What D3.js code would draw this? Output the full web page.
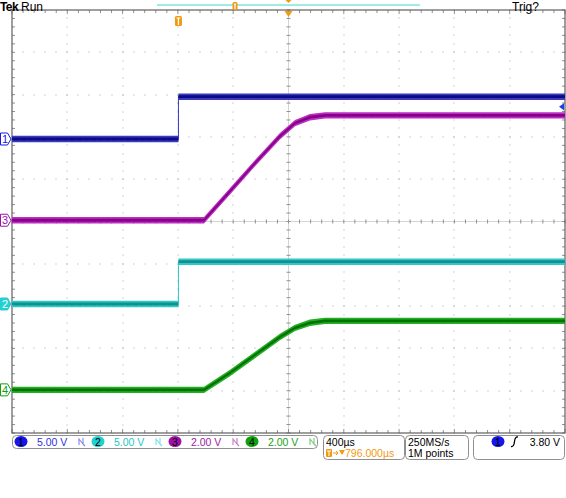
<!DOCTYPE html>
<html>
<head>
<meta charset="utf-8">
<script src="https://cdn.jsdelivr.net/npm/d3@7"></script>
<style>
body { margin: 0; background: #fff; }
svg { display: block; font-family: "Liberation Sans", Arial, sans-serif; }
</style>
</head>
<body>
<svg id="scope" width="566" height="498"></svg>
<script>
// time in µs relative to the trigger point
var timeEdge = [-1204, 0, 0, 2796];
var ch1Volts = [0, 0, 5.0, 5.0];
var ch2Volts = [0, 0, 5.0, 5.0];

var timeRamp = [-1204, 185, 373, 554, 734, 843, 951, 1060, 2796];
var ch3Volts = [0, 0, 1.37, 2.70, 3.97, 4.59, 4.87, 4.96, 4.96];
var ch4Volts = [0, 0, 0.80, 1.65, 2.50, 2.93, 3.17, 3.26, 3.26];

var scaleLabels = ["5.00 V", "5.00 V", "2.00 V", "2.00 V"];
var timeLabel = "400µs";
var delayLabel = "796.000µs";
var rateLabels = ["250MS/s", "1M points"];
var trigLevel = 3.80;
var trigLabel = "3.80 V";

(function() {
var channels = [
    {id: "1", t: timeEdge, v: ch1Volts, vdiv: 5, pos: 1.95, band: "#3b3bbb", core: "#0a0a8a", tag: "#1616e8", txt: "#3030e0", tagFill: false},
    {id: "3", t: timeRamp, v: ch3Volts, vdiv: 2, pos: 0.03, band: "#b830c0", core: "#8a008a", tag: "#a010a8", txt: "#a020a0", tagFill: false},
    {id: "2", t: timeEdge, v: ch2Volts, vdiv: 5, pos: -1.95, band: "#30c8c8", core: "#129090", tag: "#22d0d0", txt: "#22c8c8", tagFill: true},
    {id: "4", t: timeRamp, v: ch4Volts, vdiv: 2, pos: -3.98, band: "#20b020", core: "#087008", tag: "#10a010", txt: "#20a020", tagFill: false}
];

var pL = 12, pR = 565, pT = 10, pB = 433;

var x = d3.scaleLinear().domain([-1204, 2796]).range([pL, pR]);
var xDiv = d3.scaleLinear().domain([0, 10]).range([pL, pR]);
var yDiv = d3.scaleLinear().domain([-5, 5]).range([pB, pT]);

var svg = d3.select("#scope");

// ---- graticule
var grid = svg.append("g");
var minorX = d3.range(0, 51).map(function(d) { return d / 5; });
var minorY = d3.range(-25, 26).map(function(d) { return d / 5; });

// dotted division lines
d3.range(1, 10).filter(function(i) { return i != 5; }).forEach(function(i) {
    grid.selectAll(null).data(minorY).enter().append("rect")
        .attr("x", Math.round(xDiv(i)) - 0.5).attr("y", function(d) { return Math.round(yDiv(d)) - 0.5; })
        .attr("width", 1).attr("height", 1).attr("fill", "#a8a8a8");
});
d3.range(-4, 5).filter(function(j) { return j != 0; }).forEach(function(j) {
    grid.selectAll(null).data(minorX).enter().append("rect")
        .attr("x", function(d) { return Math.round(xDiv(d)) - 0.5; }).attr("y", Math.round(yDiv(j)) - 0.5)
        .attr("width", 1).attr("height", 1).attr("fill", "#a8a8a8");
});

// center cross with ticks
grid.append("line").attr("x1", xDiv(5)).attr("x2", xDiv(5)).attr("y1", pT).attr("y2", pB)
    .attr("stroke", "#d4d4d4");
grid.append("line").attr("x1", pL).attr("x2", pR).attr("y1", yDiv(0)).attr("y2", yDiv(0))
    .attr("stroke", "#d4d4d4");
grid.selectAll(null).data(minorY).enter().append("line")
    .attr("x1", xDiv(5) - 2).attr("x2", xDiv(5) + 2)
    .attr("y1", function(d) { return yDiv(d); }).attr("y2", function(d) { return yDiv(d); })
    .attr("stroke", "#909090");
grid.selectAll(null).data(minorX).enter().append("line")
    .attr("y1", yDiv(0) - 2).attr("y2", yDiv(0) + 2)
    .attr("x1", function(d) { return xDiv(d); }).attr("x2", function(d) { return xDiv(d); })
    .attr("stroke", "#909090");

// border ticks
grid.selectAll(null).data(minorX).enter().append("line")
    .attr("x1", function(d) { return xDiv(d); }).attr("x2", function(d) { return xDiv(d); })
    .attr("y1", pT).attr("y2", function(d) { return pT + (d % 1 == 0 ? 4 : 3); })
    .attr("stroke", "#909090");
grid.selectAll(null).data(minorX).enter().append("line")
    .attr("x1", function(d) { return xDiv(d); }).attr("x2", function(d) { return xDiv(d); })
    .attr("y1", pB).attr("y2", function(d) { return pB - (d % 1 == 0 ? 4 : 3); })
    .attr("stroke", "#909090");
grid.selectAll(null).data(minorY).enter().append("line")
    .attr("y1", function(d) { return yDiv(d); }).attr("y2", function(d) { return yDiv(d); })
    .attr("x1", pL).attr("x2", pL + 3)
    .attr("stroke", "#909090");
grid.selectAll(null).data(minorY).enter().append("line")
    .attr("y1", function(d) { return yDiv(d); }).attr("y2", function(d) { return yDiv(d); })
    .attr("x1", pR).attr("x2", pR - 3)
    .attr("stroke", "#909090");

grid.append("rect").attr("x", pL).attr("y", pT)
    .attr("width", pR - pL).attr("height", pB - pT)
    .attr("fill", "none").attr("stroke", "#606060").attr("stroke-width", 1.2);

// ---- traces
var traces = svg.append("g");
channels.forEach(function(ch) {
    var pts = ch.t.map(function(t, i) { return [x(t), yDiv(ch.pos + ch.v[i] / ch.vdiv)]; });
    var band = d3.area().x(function(d) { return d[0]; })
        .y0(function(d) { return d[1] + 3.2; }).y1(function(d) { return d[1] - 3.2; });
    var core = d3.area().x(function(d) { return d[0]; })
        .y0(function(d) { return d[1] + 1.4; }).y1(function(d) { return d[1] - 1.4; });
    var line = d3.line().x(function(d) { return d[0]; }).y(function(d) { return d[1]; });
    traces.append("path").attr("d", line(pts)).attr("fill", "none")
        .attr("stroke", ch.band).attr("stroke-width", 1);
    traces.append("path").attr("d", band(pts)).attr("fill", ch.band);
    traces.append("path").attr("d", core(pts)).attr("fill", ch.core);
    traces.append("path").attr("d", line(pts)).attr("fill", "none")
        .attr("stroke", ch.band).attr("stroke-width", 1).attr("stroke-dasharray", "2,5")
        .attr("transform", "translate(0,2)");
});

// ---- channel ground markers at left
channels.forEach(function(ch) {
    var yy = yDiv(ch.pos);
    var g = svg.append("g").attr("transform", "translate(0.5," + yy + ")");
    g.append("path").attr("d", "M0,-6H7L10.5,0L7,6H0Z")
        .attr("fill", ch.tagFill ? ch.tag : "#fff")
        .attr("stroke", ch.tag).attr("stroke-width", 1);
    g.append("text").attr("x", 4.5).attr("y", 4).attr("text-anchor", "middle")
        .attr("font-size", 11).attr("fill", ch.tagFill ? "#fff" : ch.tag).text(ch.id);
});

// trigger level arrow on right
var trigY = yDiv(channels[0].pos + trigLevel / channels[0].vdiv);
svg.append("path").attr("d", "M" + (pR - 1) + "," + (trigY - 3.5) + "L" + (pR - 6) + "," + trigY + "L" + (pR - 1) + "," + (trigY + 3.5) + "Z")
    .attr("fill", "#1a3cf0");

// ---- top area
svg.append("text").attr("x", 0).attr("y", 11).attr("font-size", 12).attr("font-weight", "bold")
    .attr("letter-spacing", -0.6).text("Tek");
svg.append("text").attr("x", 21).attr("y", 11).attr("font-size", 12).text("Run");
svg.append("text").attr("x", 512).attr("y", 11).attr("font-size", 12).text("Trig?");

svg.append("line").attr("x1", 157).attr("x2", 420).attr("y1", 5).attr("y2", 5)
    .attr("stroke", "#7fe3e3").attr("stroke-width", 1.5);

var orange = "#f09a10";
function tIcon(cx, cy, w, h) {
    var g = svg.append("g").attr("transform", "translate(" + cx + "," + cy + ")");
    g.append("rect").attr("x", -w / 2).attr("y", -h / 2).attr("width", w).attr("height", h)
        .attr("rx", 1.5).attr("fill", orange);
    g.append("path").attr("d", "M" + (-w / 2 + 1.5) + "," + (-h / 2 + 2) + "H" + (w / 2 - 1.5) + "M0," + (-h / 2 + 2) + "V" + (h / 2 - 1))
        .attr("stroke", "#fff").attr("stroke-width", 1.2);
}
tIcon(235, 6, 5, 8);
tIcon(x(0), 21, 7, 10);
svg.append("path").attr("d", "M" + (xDiv(5) - 3) + ",0L" + (xDiv(5) + 3) + ",0L" + xDiv(5) + ",3Z").attr("fill", orange);
svg.append("path").attr("d", "M" + (xDiv(5) - 4) + "," + (pT + 1) + "L" + (xDiv(5) + 4) + "," + (pT + 1) + "L" + xDiv(5) + "," + (pT + 7) + "Z").attr("fill", orange);

// ---- bottom readouts
var fs = 10.5;
function box(x0, x1, y0, y1) {
    svg.append("rect").attr("x", x0 + 0.5).attr("y", y0 + 0.5).attr("width", x1 - x0).attr("height", y1 - y0)
        .attr("rx", 4).attr("fill", "#fff").attr("stroke", "#909090");
}
box(12, 317, 435, 448);
box(323, 404, 435, 459);
box(405, 468, 435, 459);
box(473, 564, 435, 459);

// bandwidth-limit glyph
function bwIcon(cx, color) {
    svg.append("path").attr("d", "M" + (cx - 3) + ",445V439L" + (cx + 1) + ",444V438M" + (cx + 1) + ",444L" + (cx + 3) + ",446")
        .attr("fill", "none").attr("stroke", color).attr("stroke-width", 1.1).attr("opacity", 0.6);
}

var legendX = [21, 98, 175, 252];
var ordered = channels.slice().sort(function(a, b) { return a.id - b.id; });
ordered.forEach(function(ch, i) {
    var cx = legendX[i];
    svg.append("ellipse").attr("cx", cx).attr("cy", 441.5).attr("rx", 6.5).attr("ry", 5.5).attr("fill", ch.tag);
    svg.append("text").attr("x", cx).attr("y", 445.5).attr("text-anchor", "middle")
        .attr("font-size", fs).attr("fill", "#000").text(ch.id);
    svg.append("text").attr("x", cx + 16).attr("y", 445.5).attr("font-size", fs)
        .attr("fill", ch.txt).text(scaleLabels[i]);
    bwIcon(cx + 61, ch.txt);
});

svg.append("text").attr("x", 326).attr("y", 445.5).attr("font-size", fs).text(timeLabel);
svg.append("rect").attr("x", 326).attr("y", 449).attr("width", 6).attr("height", 8).attr("rx", 1).attr("fill", orange);
svg.append("path").attr("d", "M327,451H331M329,451V456").attr("stroke", "#fff").attr("stroke-width", 1);
svg.append("path").attr("d", "M333,453H338M336,451L338,453L336,455").attr("fill", "none").attr("stroke", orange).attr("stroke-width", 1);
svg.append("path").attr("d", "M339,450H345L342,455Z").attr("fill", orange);
svg.append("text").attr("x", 345).attr("y", 456.5).attr("font-size", fs).attr("fill", orange)
    .text(delayLabel);

svg.append("text").attr("x", 408).attr("y", 445.5).attr("font-size", fs).text(rateLabels[0]);
svg.append("text").attr("x", 408).attr("y", 456.5).attr("font-size", fs).text(rateLabels[1]);

svg.append("ellipse").attr("cx", 498).attr("cy", 441.5).attr("rx", 6.5).attr("ry", 5.5).attr("fill", channels[0].tag);
svg.append("text").attr("x", 498).attr("y", 445.5).attr("text-anchor", "middle").attr("font-size", fs).text("1");
svg.append("path").attr("d", "M511,446.5Q514,447 514.5,441.5Q515,436.5 518,437").attr("fill", "none")
    .attr("stroke", "#000").attr("stroke-width", 1.3);
svg.append("text").attr("x", 560).attr("y", 445.5).attr("text-anchor", "end").attr("font-size", fs).text(trigLabel);
})();
</script>
</body>
</html>
